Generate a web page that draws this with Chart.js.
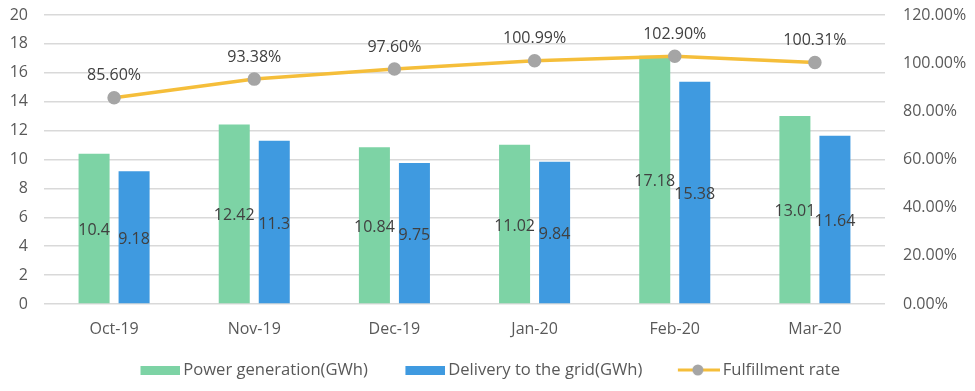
<!DOCTYPE html>
<html>
<head>
<meta charset="utf-8">
<script src="https://cdn.jsdelivr.net/npm/chart.js@4"></script>
<style>
html,body{margin:0;padding:0;background:#fff;}
#wrap{width:975px;height:391px;position:relative;}
</style>
</head>
<body>
<div id="wrap"><canvas id="c" width="975" height="391"></canvas></div>
<script>
const categories = ["Oct-19","Nov-19","Dec-19","Jan-20","Feb-20","Mar-20"];
const powerGeneration = [10.4, 12.42, 10.84, 11.02, 17.18, 13.01];
const gridDelivery = [9.18, 11.3, 9.75, 9.84, 15.38, 11.64];
const fulfillmentRate = [0.856, 0.9338, 0.976, 1.0099, 1.029, 1.0031];
const seriesNames = ["Power generation(GWh)", "Delivery to the grid(GWh)", "Fulfillment rate"];

const GREEN = "#7DD3A5", BLUE = "#3F9AE0", YELLOW = "#F5BE3A", GRAY_PT = "#A5A5A5";
const FONT = "'Open Sans', 'DejaVu Sans', sans-serif";

// legend icons: visible part sits at the right end of a wider transparent canvas
function makeBox(color){
  const c = document.createElement('canvas'); c.width = 67; c.height = 9;
  const x = c.getContext('2d'); x.fillStyle = color; x.fillRect(27,0,40,9); return c;
}
function makeLineIcon(){
  const c = document.createElement('canvas'); c.width = 67; c.height = 12;
  const x = c.getContext('2d'); x.strokeStyle = YELLOW; x.lineWidth = 3;
  x.beginPath(); x.moveTo(25,6); x.lineTo(67,6); x.stroke();
  x.fillStyle = GRAY_PT; x.beginPath(); x.arc(45,6,5.5,0,Math.PI*2); x.fill(); return c;
}
const icons = [makeBox(GREEN), makeBox(BLUE), makeLineIcon()];

const labelPlugin = {
  id: 'valueLabels',
  afterDatasetsDraw(chart){
    const ctx = chart.ctx;
    ctx.save();
    ctx.font = "16px " + FONT;
    ctx.fillStyle = "#404040";
    ctx.textAlign = "center";
    ctx.textBaseline = "middle";
    chart.data.datasets.forEach((ds, i) => {
      const meta = chart.getDatasetMeta(i);
      meta.data.forEach((el, j) => {
        const v = ds.data[j];
        if (ds.type === 'line') {
          ctx.fillText((v*100).toFixed(2) + "%", el.x, el.y - 22);
        } else {
          ctx.fillText(String(v), el.x, (el.y + el.base)/2 + 2);
        }
      });
    });
    ctx.restore();
  }
};

function fitY(width){
  return function(s){ s.width = width; s.paddingTop = 8; s.paddingBottom = 8; };
}

new Chart(document.getElementById('c'), {
  data: {
    labels: categories,
    datasets: [
      { type: 'line', label: seriesNames[2], data: fulfillmentRate, yAxisID: 'y1',
        borderColor: YELLOW, borderWidth: 3.5, pointBackgroundColor: GRAY_PT, pointBorderColor: GRAY_PT,
        pointRadius: 5, tension: 0, order: 0 },
      { type: 'bar', label: seriesNames[0], data: powerGeneration, yAxisID: 'y',
        backgroundColor: GREEN, categoryPercentage: 0.571, barPercentage: 0.775, order: 1 },
      { type: 'bar', label: seriesNames[1], data: gridDelivery, yAxisID: 'y',
        backgroundColor: BLUE, categoryPercentage: 0.571, barPercentage: 0.775, order: 1 }
    ]
  },
  options: {
    responsive: false,
    animation: false,
    layout: { padding: { top: 15, left: -16, right: 0, bottom: 2.7 } },
    plugins: {
      tooltip: { enabled: false },
      legend: {
        position: 'bottom',
        labels: {
          usePointStyle: true,
          pointStyleWidth: 56,
          padding: 16,
          color: "#595959",
          font: { family: FONT, size: 16.6 },
          generateLabels(chart){
            const order = [1,2,0];
            return order.map((di, k) => ({
              text: chart.data.datasets[di].label,
              pointStyle: icons[k],
              fillStyle: 'transparent', strokeStyle: 'transparent', lineWidth: 0,
              fontColor: "#595959",
              datasetIndex: di, hidden: false
            }));
          }
        }
      }
    },
    scales: {
      x: {
        grid: { display: false, drawTicks: false },
        border: { display: false },
        ticks: { color: "#595959", font: { family: FONT, size: 16 }, padding: 16 },
        afterFit(s){ s.height = 41.7; }
      },
      y: {
        position: 'left', min: 0, max: 20,
        ticks: { stepSize: 2, color: "#595959", font: { family: FONT, size: 16 }, padding: 16 },
        grid: { color: "#D9D9D9", lineWidth: 1.5, drawTicks: false },
        border: { display: false },
        afterFit: fitY(60)
      },
      y1: {
        position: 'right', min: 0, max: 1.2,
        ticks: { stepSize: 0.2, color: "#595959", font: { family: FONT, size: 16 }, padding: 18,
          callback: v => (v*100).toFixed(2) + "%" },
        grid: { display: false, drawTicks: false },
        border: { display: false },
        afterFit: fitY(90)
      }
    }
  },
  plugins: [labelPlugin]
});
</script>
</body>
</html>
